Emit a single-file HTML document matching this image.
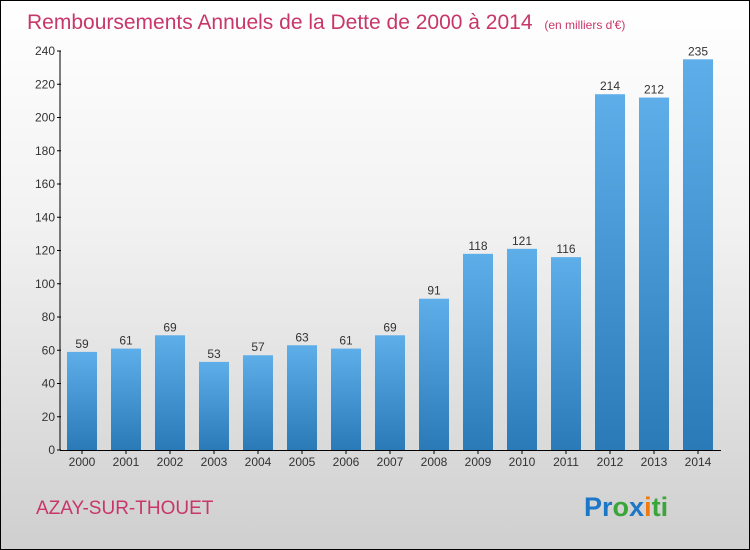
<!DOCTYPE html>
<html><head><meta charset="utf-8"><style>
body{margin:0}
#c{width:748px;height:548px;border:1px solid #000;background:linear-gradient(#fff,#f2f2f2 40%,#cfcfcf);position:relative;font-family:"Liberation Sans",sans-serif;overflow:hidden}
</style></head><body>
<div id="c">
<svg width="748" height="548" id="s">
<defs><linearGradient id="g" x1="0" y1="0" x2="0" y2="1"><stop offset="0" stop-color="#5daee9"/><stop offset="1" stop-color="#2a7ab8"/></linearGradient></defs>
<text x="26" y="28" font-size="21" fill="#c8366a">Remboursements Annuels de la Dette de 2000 à 2014 <tspan font-size="12" dx="6">(en milliers d'€)</tspan></text>
<text x="35" y="513" font-size="19" fill="#c8366a">AZAY-SUR-THOUET</text>
<text x="583" y="515" font-size="27" font-weight="bold"><tspan fill="#1d77c8">Pr</tspan><tspan fill="#3aa63a">o</tspan><tspan fill="#1d77c8">x</tspan><tspan fill="#f07a10">i</tspan><tspan fill="#3aa63a">ti</tspan></text>
<g id="plot"></g>
</svg></div>
<script>
const years=["2000","2001","2002","2003","2004","2005","2006","2007","2008","2009","2010","2011","2012","2013","2014"];
const values=[59,61,69,53,57,63,61,69,91,118,121,116,214,212,235];
const yTicks=[0,20,40,60,80,100,120,140,160,180,200,220,240];
const NS="http://www.w3.org/2000/svg";
const g=document.getElementById('plot');
const y0=449,yMax=240,yTop=50;
const yS=v=>y0-v*(y0-yTop)/yMax;
const xS=i=>81+i*44;
function mk(t,a){const e=document.createElementNS(NS,t);for(const k in a)e.setAttribute(k,a[k]);g.appendChild(e);return e;}
let ax=mk('line',{x1:59,y1:yTop,x2:59,y2:y0,stroke:'#000'});


let bx=mk('line',{x1:59,y1:y0+0.5,x2:720,y2:y0+0.5,stroke:'#000'});


yTicks.forEach(v=>{
 let l=mk('line',{x1:56,x2:60,y1:yS(v),y2:yS(v),stroke:'#000'});
 
 
 let t=mk('text',{x:54,y:yS(v)+4,'font-size':12,'text-anchor':'end',fill:'#333'});
 t.textContent=v;
 
 
});
values.forEach((v,i)=>{
 let r=mk('rect',{x:xS(i)-15,y:yS(v),width:30,height:y0-yS(v),fill:'url(#g)'});
 
 
 let t=mk('text',{x:xS(i),y:yS(v)-4,'font-size':12,'text-anchor':'middle',fill:'#333'});
 t.textContent=v;
 
 
 let k=mk('line',{x1:xS(i),x2:xS(i),y1:y0,y2:y0+4,stroke:'#000'});
 
 
 let x=mk('text',{x:xS(i),y:y0+16,'font-size':12,'text-anchor':'middle',fill:'#333'});
 x.textContent=years[i];
 
 
});
</script>
</body></html>
